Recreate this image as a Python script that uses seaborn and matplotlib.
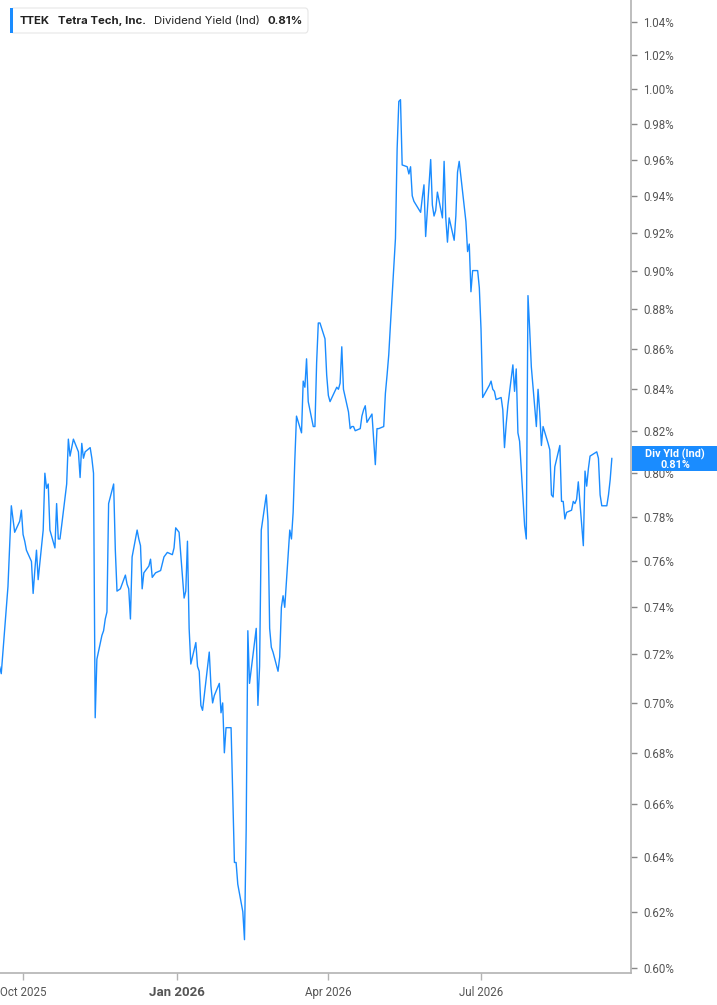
#!/usr/bin/env python3
"""TTEK dividend yield (indicated), one year of daily closes."""

import matplotlib.pyplot as plt
import matplotlib.ticker as mticker
import matplotlib.dates as mdates
from matplotlib.patches import FancyBboxPatch, Rectangle
import pandas as pd
import seaborn as sns
from pandas.tseries.offsets import CustomBusinessDay

# ---- data (dividend yield in %, one value per trading day) ----
START = "2025-09-17"
MARKET_HOLIDAYS = ["2025-11-27", "2025-12-25", "2026-01-01", "2026-01-19", "2026-02-16",
                   "2026-04-03", "2026-05-25", "2026-06-19", "2026-07-03", "2026-09-07"]

yield_sep_nov = [
    0.715, 0.712, 0.721, 0.749, 0.767, 0.785, 0.779, 0.773, 0.778, 0.783,
    0.772, 0.769, 0.765, 0.760, 0.746, 0.756, 0.765, 0.752, 0.774, 0.800,
    0.793, 0.795, 0.774, 0.766, 0.786, 0.770, 0.770, 0.776, 0.795, 0.816,
    0.808, 0.812, 0.816, 0.810, 0.798, 0.814, 0.807, 0.810, 0.812, 0.807,
    0.800,
]
yield_nov_feb = [
    0.694, 0.718, 0.728, 0.730, 0.735, 0.738, 0.786, 0.795, 0.765, 0.747,
    0.748, 0.754, 0.750, 0.748, 0.735, 0.762, 0.774, 0.770, 0.767, 0.748,
    0.755, 0.758, 0.761, 0.753, 0.754, 0.755, 0.756, 0.759, 0.762, 0.764,
    0.763, 0.766, 0.775, 0.773, 0.744, 0.747, 0.769, 0.731, 0.716, 0.725,
    0.715, 0.713, 0.699, 0.697, 0.721, 0.707, 0.700, 0.703, 0.708, 0.696,
    0.700, 0.680, 0.690, 0.690, 0.664, 0.638, 0.638, 0.630, 0.620, 0.610,
]
yield_feb_may = [
    0.650, 0.730, 0.708, 0.731, 0.699, 0.715, 0.774, 0.790, 0.778, 0.731,
    0.723, 0.721, 0.713, 0.719, 0.740, 0.745, 0.740, 0.774, 0.770, 0.782,
    0.806, 0.827, 0.819, 0.844, 0.841, 0.855, 0.834, 0.822, 0.822, 0.853,
    0.873, 0.873, 0.865, 0.847, 0.837, 0.834, 0.841, 0.840, 0.843, 0.861,
    0.840, 0.829, 0.821, 0.822, 0.822, 0.820, 0.821, 0.827, 0.830, 0.832,
    0.824, 0.828, 0.816, 0.804, 0.821, 0.821, 0.822, 0.838, 0.847, 0.857,
    0.872,
]
yield_may_sep = [
    0.917, 0.966, 0.993, 0.994, 0.957, 0.956, 0.952, 0.956, 0.940, 0.937,
    0.931, 0.939, 0.946, 0.918, 0.960, 0.935, 0.929, 0.932, 0.942, 0.928,
    0.959, 0.928, 0.915, 0.928, 0.916, 0.929, 0.953, 0.959, 0.926, 0.910,
    0.914, 0.889, 0.900, 0.900, 0.891, 0.870, 0.836, 0.842, 0.844, 0.840,
    0.839, 0.835, 0.836, 0.830, 0.812, 0.823, 0.832, 0.852, 0.839, 0.850,
    0.819, 0.815, 0.776, 0.770, 0.887, 0.870, 0.851, 0.822, 0.840, 0.829,
    0.813, 0.822, 0.814, 0.811, 0.790, 0.789, 0.803, 0.813, 0.787, 0.787,
    0.779, 0.782, 0.783, 0.787, 0.786, 0.788, 0.796, 0.767, 0.801, 0.794,
    0.802, 0.808, 0.810, 0.807, 0.790, 0.785, 0.785, 0.790, 0.797, 0.807,
]

y_ticks = [0.60, 0.62, 0.64, 0.66, 0.68, 0.70, 0.72, 0.74, 0.76, 0.78, 0.80, 0.82,
           0.84, 0.86, 0.88, 0.90, 0.92, 0.94, 0.96, 0.98, 1.00, 1.02, 1.04]
x_ticks = ["2025-10-01", "2026-01-01", "2026-04-01", "2026-07-01"]
x_tick_labels = ["Oct 2025", "Jan 2026", "Apr 2026", "Jul 2026"]

TICKER = "TTEK"
COMPANY = "Tetra Tech, Inc."
METRIC = "Dividend Yield (Ind)"
LAST_LABEL = "0.81%"

LINE_COLOR = "#1a8cff"
AXIS_COLOR = "#b3b3b3"
TEXT_COLOR = "#555555"

W, H = 717, 1005


def main() -> None:
    values = yield_sep_nov + yield_nov_feb + yield_feb_may + yield_may_sep
    dates = pd.date_range(START, periods=len(values),
                          freq=CustomBusinessDay(holidays=MARKET_HOLIDAYS))
    df = pd.DataFrame({"date": dates, "yield": values})

    sns.set_theme(style="white")
    plt.rcParams["font.family"] = ["Roboto", "DejaVu Sans"]

    fig = plt.figure(figsize=(W / 100, H / 100), dpi=100)
    ax = fig.add_axes([0, 1 - 973 / H, 631 / W, 973 / H])

    sns.lineplot(data=df, x="date", y="yield", color=LINE_COLOR, linewidth=1.0, ax=ax)

    ax.set_yscale("log")
    ax.set_ylim(0.5983, 1.0533)
    ax.set_xlim(pd.Timestamp("2025-09-17 06:00"), pd.Timestamp("2026-09-28 10:00"))

    ax.yaxis.tick_right()
    ax.yaxis.set_major_locator(mticker.FixedLocator(y_ticks))
    ax.yaxis.set_minor_locator(mticker.NullLocator())
    ax.yaxis.set_major_formatter(mticker.FuncFormatter(lambda v, _: f"{v:.2f}%"))
    ax.tick_params(axis="y", which="major", right=True, left=False, length=4, width=1,
                   color="#888888", labelcolor=TEXT_COLOR, labelsize=8.3, pad=5)

    ax.set_xticks([mdates.date2num(pd.Timestamp(d)) for d in x_ticks])
    ax.set_xticklabels(x_tick_labels)
    ax.tick_params(axis="x", bottom=True, length=5, width=1, color=AXIS_COLOR,
                   labelcolor=TEXT_COLOR, labelsize=8.3, pad=4)
    for lbl in ax.get_xticklabels():
        if lbl.get_text().startswith("Jan"):
            lbl.set_fontweight("bold")
            lbl.set_fontsize(9.5)

    ax.set_xlabel("")
    ax.set_ylabel("")
    for side in ("left", "top"):
        ax.spines[side].set_visible(False)
    for side in ("right", "bottom"):
        ax.spines[side].set_color(AXIS_COLOR)
        ax.spines[side].set_linewidth(1.2)
    ax.grid(False)

    # header legend box
    fx = lambda px: px / W
    fy = lambda py: 1 - py / H
    fig.patches.append(FancyBboxPatch((fx(11), fy(33)), fx(297), 25 / H,
                                      boxstyle="round,pad=0,rounding_size=0.004",
                                      transform=fig.transFigure, facecolor="white",
                                      edgecolor="#e6e6e6", linewidth=0.8, zorder=5))
    fig.patches.append(Rectangle((fx(10), fy(33)), fx(3), 25 / H, transform=fig.transFigure,
                                 facecolor=LINE_COLOR, edgecolor="none", zorder=6))
    renderer = fig.canvas.get_renderer()
    cursor = 20
    for txt, wt in [(TICKER, "bold"), (COMPANY, "bold"), (METRIC, "normal"),
                    (LAST_LABEL, "bold")]:
        t = fig.text(fx(cursor), fy(21), txt, fontsize=8.2, fontweight=wt,
                     color="#222222", va="center", ha="left",
                     family=["Inter", "DejaVu Sans"], zorder=7)
        cursor += t.get_window_extent(renderer).width + 8

    # last value tag on the right axis
    fig.patches.append(Rectangle((fx(632), fy(471)), fx(85), 25 / H,
                                 transform=fig.transFigure, facecolor=LINE_COLOR,
                                 edgecolor="none", zorder=6))
    fig.text(fx(675), fy(454), "Div Yld (Ind)", fontsize=7.8, fontweight="bold",
             color="white", ha="center", va="center", zorder=7)
    fig.text(fx(675), fy(465), LAST_LABEL, fontsize=7.8, fontweight="bold",
             color="white", ha="center", va="center", zorder=7)

    fig.savefig("out.png", dpi=100, facecolor="white")
    plt.close(fig)


if __name__ == "__main__":
    main()
